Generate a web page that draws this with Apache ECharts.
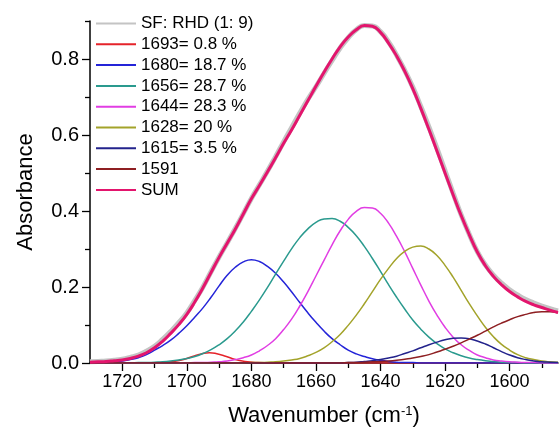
<!DOCTYPE html>
<html>
<head>
<meta charset="utf-8">
<script src="https://cdn.jsdelivr.net/npm/echarts@6/dist/echarts.min.js"></script>
<style>
  html, body { margin: 0; padding: 0; background: #fff; }
  #chart { width: 560px; height: 432px; }
</style>
</head>
<body>
<div id="chart"></div>
<script>
// Amide I band of SF:RHD (1:9) film, deconvoluted into Gaussian components
const wavenumbers = [
  1730, 1727.5, 1725, 1722.5, 1720, 1717.5, 1715, 1712.5, 1710, 1707.5,
  1705, 1702.5, 1700, 1697.5, 1695, 1692.5, 1690, 1687.5, 1685, 1682.5,
  1680, 1677.5, 1675, 1672.5, 1670, 1667.5, 1665, 1662.5, 1660, 1657.5,
  1655, 1652.5, 1650, 1647.5, 1645, 1642.5, 1640, 1637.5, 1635, 1632.5,
  1630, 1627.5, 1625, 1622.5, 1620, 1617.5, 1615, 1612.5, 1610, 1607.5,
  1605, 1602.5, 1600, 1597.5, 1595, 1592.5, 1590, 1587.5, 1585];

const measured = [
  0.003, 0.004, 0.005, 0.007, 0.010, 0.015, 0.021, 0.031, 0.044, 0.062,
  0.083, 0.106, 0.132, 0.165, 0.200, 0.240, 0.279, 0.316, 0.354, 0.393,
  0.433, 0.469, 0.505, 0.543, 0.582, 0.620, 0.658, 0.694, 0.727, 0.762,
  0.796, 0.829, 0.856, 0.877, 0.888, 0.887, 0.872, 0.845, 0.810, 0.770,
  0.726, 0.675, 0.621, 0.565, 0.506, 0.447, 0.390, 0.339, 0.293, 0.258,
  0.231, 0.210, 0.193, 0.179, 0.167, 0.158, 0.150, 0.143, 0.137];

const fitSum = [
  0.002, 0.003, 0.004, 0.006, 0.008, 0.012, 0.018, 0.027, 0.040, 0.057,
  0.078, 0.101, 0.128, 0.161, 0.198, 0.238, 0.278, 0.315, 0.352, 0.392,
  0.432, 0.467, 0.503, 0.540, 0.578, 0.614, 0.652, 0.690, 0.728, 0.765,
  0.800, 0.832, 0.858, 0.877, 0.888, 0.886, 0.870, 0.842, 0.808, 0.768,
  0.722, 0.670, 0.615, 0.558, 0.500, 0.443, 0.388, 0.338, 0.292, 0.256,
  0.228, 0.206, 0.188, 0.174, 0.162, 0.153, 0.146, 0.139, 0.133];

const band1680 = [
  0, 0.001, 0.002, 0.003, 0.005, 0.009, 0.014, 0.022, 0.034, 0.046,
  0.060, 0.078, 0.098, 0.121, 0.145, 0.173, 0.203, 0.231, 0.252, 0.266,
  0.272, 0.267, 0.254, 0.236, 0.213, 0.187, 0.159, 0.132, 0.107, 0.084,
  0.064, 0.048, 0.034, 0.024, 0.017, 0.011, 0.007, 0.004, 0.002, 0.001,
  0.001, 0, 0, 0, 0, 0, 0, 0, 0, 0,
  0, 0, 0, 0, 0, 0, 0, 0, 0];

const band1656 = [
  0, 0, 0, 0, 0, 0, 0.001, 0.001, 0.002, 0.003,
  0.005, 0.008, 0.012, 0.017, 0.025, 0.035, 0.048, 0.064, 0.084, 0.108,
  0.136, 0.166, 0.199, 0.234, 0.268, 0.301, 0.330, 0.353, 0.370, 0.379,
  0.380, 0.373, 0.357, 0.335, 0.307, 0.275, 0.241, 0.206, 0.173, 0.142,
  0.113, 0.089, 0.068, 0.051, 0.037, 0.027, 0.019, 0.013, 0.009, 0.006,
  0.004, 0.002, 0.001, 0.001, 0, 0, 0, 0, 0];

const band1644 = [
  0, 0, 0, 0, 0, 0, 0, 0, 0, 0,
  0, 0, 0, 0.001, 0.001, 0.002, 0.003, 0.005, 0.009, 0.014,
  0.021, 0.032, 0.046, 0.064, 0.088, 0.116, 0.150, 0.188, 0.229, 0.270,
  0.311, 0.348, 0.378, 0.399, 0.409, 0.408, 0.394, 0.368, 0.333, 0.293,
  0.249, 0.205, 0.163, 0.126, 0.094, 0.068, 0.048, 0.033, 0.021, 0.014,
  0.008, 0.005, 0.003, 0.002, 0.001, 0.001, 0, 0, 0];

const band1628 = [
  0, 0, 0, 0, 0, 0, 0, 0, 0, 0,
  0, 0, 0, 0, 0, 0, 0, 0, 0, 0,
  0.001, 0.001, 0.002, 0.003, 0.005, 0.008, 0.012, 0.019, 0.028, 0.040,
  0.056, 0.075, 0.099, 0.126, 0.156, 0.188, 0.220, 0.249, 0.275, 0.294,
  0.305, 0.308, 0.300, 0.283, 0.257, 0.226, 0.191, 0.156, 0.124, 0.094,
  0.069, 0.049, 0.034, 0.022, 0.014, 0.009, 0.005, 0.003, 0.002];

const band1615 = [
  0, 0, 0, 0, 0, 0, 0, 0, 0, 0,
  0, 0, 0, 0, 0, 0, 0, 0, 0, 0,
  0, 0, 0, 0, 0, 0, 0, 0, 0, 0,
  0, 0, 0.001, 0.002, 0.004, 0.006, 0.009, 0.013, 0.018, 0.025,
  0.032, 0.040, 0.048, 0.055, 0.061, 0.065, 0.066, 0.064, 0.058, 0.050,
  0.040, 0.030, 0.021, 0.014, 0.009, 0.005, 0.003, 0.002, 0.001];

const band1591 = [
  0, 0, 0, 0, 0, 0, 0, 0, 0, 0,
  0, 0, 0, 0, 0, 0, 0, 0, 0, 0,
  0, 0, 0, 0, 0, 0, 0, 0, 0, 0,
  0, 0, 0.001, 0.001, 0.002, 0.003, 0.004, 0.005, 0.007, 0.010,
  0.013, 0.017, 0.022, 0.029, 0.036, 0.044, 0.053, 0.063, 0.073, 0.084,
  0.095, 0.105, 0.114, 0.122, 0.128, 0.133, 0.135, 0.135, 0.132];

// narrow band, sampled on its own finer grid
const wavenumbers1693 = [1730, 1712, 1708, 1704, 1701, 1698, 1695, 1693, 1691, 1688, 1685, 1682, 1678, 1674, 1585];
const band1693 = [0, 0, 0.001, 0.004, 0.009, 0.018, 0.025, 0.027, 0.025, 0.018, 0.009, 0.004, 0.001, 0, 0];

const seriesNames = ['SF: RHD (1: 9)', '1693= 0.8 %', '1680= 18.7 %', '1656= 28.7 %',
                     '1644= 28.3 %', '1628= 20 %', '1615= 3.5 %', '1591', 'SUM'];

const xMajorTicks = [1720, 1700, 1680, 1660, 1640, 1620, 1600];
const xMinorTicks = [1710, 1690, 1670, 1650, 1630, 1610, 1590];
const yMajorTicks = [0, 0.2, 0.4, 0.6, 0.8];
const yMinorTicks = [0.1, 0.3, 0.5, 0.7, 0.9];

const FONT = '"Liberation Sans", Arial, Helvetica, sans-serif';

function pairs(xs, ys) {
  return xs.map((x, i) => [x, ys[i]]);
}

function curve(name, xs, ys, color, width, z) {
  return {
    name: name,
    type: 'line',
    data: pairs(xs, ys),
    xAxisIndex: 0,
    yAxisIndex: 0,
    smooth: 0.5,
    symbol: 'none',
    showSymbol: false,
    silent: true,
    z: z,
    lineStyle: { color: color, width: width },
    itemStyle: { color: color, opacity: 0 }
  };
}

const chart = echarts.init(document.getElementById('chart'), null, { renderer: 'canvas' });

const baseX = {
  type: 'value',
  min: 1585,
  max: 1730,
  inverse: true,
  position: 'bottom',
  splitLine: { show: false }
};
const baseY = {
  type: 'value',
  min: 0,
  max: 0.9,
  position: 'left',
  splitLine: { show: false }
};

chart.setOption({
  animation: false,
  backgroundColor: '#ffffff',
  textStyle: { fontFamily: FONT },
  grid: { left: 90, right: 2, top: 21, bottom: 68, containLabel: false },
  legend: {
    orient: 'vertical',
    left: 95,
    top: 15,
    padding: 0,
    itemWidth: 40,
    itemHeight: 17,
    itemGap: 3.8,
    selectedMode: false,
    data: seriesNames,
    itemStyle: { opacity: 0 },
    textStyle: { fontFamily: FONT, fontSize: 17, color: '#000', lineHeight: 17 }
  },
  xAxis: [
    Object.assign({}, baseX, {
      axisLine: { show: true, lineStyle: { color: '#000', width: 1.5 } },
      axisTick: { show: true, inside: false, length: 8, customValues: xMajorTicks,
                  lineStyle: { color: '#000', width: 1.3 } },
      axisLabel: { show: true, customValues: xMajorTicks, margin: 10,
                   fontFamily: FONT, fontSize: 18, color: '#000',
                   formatter: v => String(Math.round(v)) },
      name: 'Wavenumber (cm{sup|-1})',
      nameLocation: 'middle',
      nameGap: 42,
      nameTextStyle: {
        fontFamily: FONT, fontSize: 22, color: '#000',
        rich: { sup: { fontFamily: FONT, fontSize: 13, color: '#000', verticalAlign: 'top', padding: [0, 0, 8, 0] } }
      }
    }),
    Object.assign({}, baseX, {
      axisLine: { show: false },
      axisTick: { show: true, inside: false, length: 5, customValues: xMinorTicks,
                  lineStyle: { color: '#000', width: 1.3 } },
      axisLabel: { show: false }
    })
  ],
  yAxis: [
    Object.assign({}, baseY, {
      axisLine: { show: true, lineStyle: { color: '#000', width: 1.5 } },
      axisTick: { show: true, inside: false, length: 8, customValues: yMajorTicks,
                  lineStyle: { color: '#000', width: 1.3 } },
      axisLabel: { show: true, customValues: yMajorTicks, margin: 11,
                   fontFamily: FONT, fontSize: 20, color: '#000',
                   formatter: v => Number(v).toFixed(1) },
      name: 'Absorbance',
      nameLocation: 'middle',
      nameGap: 53,
      nameTextStyle: { fontFamily: FONT, fontSize: 22, color: '#000' }
    }),
    Object.assign({}, baseY, {
      axisLine: { show: false },
      axisTick: { show: true, inside: false, length: 5, customValues: yMinorTicks,
                  lineStyle: { color: '#000', width: 1.3 } },
      axisLabel: { show: false }
    })
  ],
  series: [
    curve(seriesNames[0], wavenumbers, measured, '#c4c4c4', 5, 2),
    curve(seriesNames[1], wavenumbers1693, band1693, '#e5232a', 1.5, 3),
    curve(seriesNames[2], wavenumbers, band1680, '#2424d8', 1.5, 3),
    curve(seriesNames[3], wavenumbers, band1656, '#2a9a8e', 1.5, 3),
    curve(seriesNames[4], wavenumbers, band1644, '#e13de3', 1.5, 3),
    curve(seriesNames[5], wavenumbers, band1628, '#a3a32a', 1.5, 3),
    curve(seriesNames[6], wavenumbers, band1615, '#23238c', 1.5, 3),
    curve(seriesNames[7], wavenumbers, band1591, '#8e1f22', 1.5, 3),
    curve(seriesNames[8], wavenumbers, fitSum, '#e3156d', 3, 4)
  ]
});
</script>
</body>
</html>
